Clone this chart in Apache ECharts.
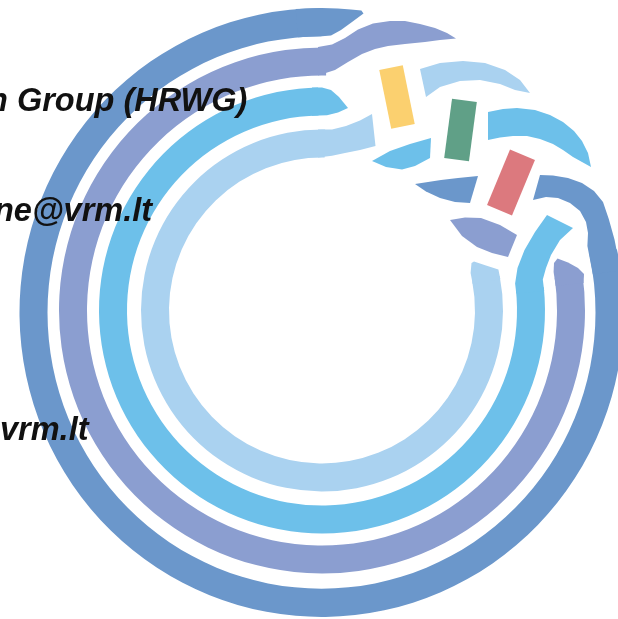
<!DOCTYPE html>
<html><head><meta charset="utf-8">
<script src="https://cdn.jsdelivr.net/npm/echarts@6/dist/echarts.min.js"></script>
<style>html,body{margin:0;padding:0;background:#fff}#c{width:618px;height:619px}</style>
</head><body><div id="c"></div>
<script>
// ---- data ----
const ringColors = ['#6b97cb', '#8b9ed0', '#6dc0ea', '#aad2f0'];
const ringCenters = [[321.5, 312.5], [322, 310.5], [322, 310.5], [322, 310.5]];
const ringStretchY = [1.008, 1, 1, 1];
const ringOuter = [302, 263, 223, 181];
const ringInner = [274, 235, 195, 153];
const ringStart = [-12, -8, -6, -11];
const ringEnd = [270, 271, 269, 271];

const darkTip = [[295.7,9.1],[322,8],[337.8,8.4],[350.9,9.4],[361.4,10.6],[363.5,13.5],[352,22],[341,30],[331,35.5],[322,36.2],[298.1,37.3]];
const purpleWave = [[318,47],[332,44.5],[345,38],[358,29.5],[373,23.5],[390,21],[405,21],[420,24],[435,28],[447,33],[456,38.5],[440,40],[425,42],[405,44],[388,46],[375,49],[362,54],[348,62],[335,70],[318,75.5]];
const lightTip = [[312,87.5],[322,87.5],[331,90],[339,97],[348,108],[338,112.5],[327,115.3],[312,115.7]];
const paleVeer = [[318,129.5],[332,129.5],[346,126],[360,120.5],[372,114],[375.5,146],[360,150],[345,153],[332,155.8],[318,157.5]];
const paleArch = [[420,69],[440,63],[463,61],[485,63],[505,70],[520,80],[530,93],[515,90],[500,84],[480,80],[460,81],[440,87],[426,97]];
const lightWedge = [[372,161],[390,151],[410,144],[431,138],[430,158],[415,166],[402,169.5],[386,167]];
const lightArch = [[488,112],[503,109],[517,108],[535,110],[550,115],[563,122],[574,131],[582,141],[588,153],[591,167],[582,162],[573,157],[563,150],[553,144],[540,139],[527,136],[513,136],[500,137.5],[488,140]];
const darkWedge = [[415,184],[428,182],[441,180],[458,178],[478,176],[470,203],[455,202],[440,198],[426,191.5]];
const darkArch = [[620.6,270.5],[614.5,239.5],[608.7,218.8],[603,202],[594,191],[582,183],[568,178],[553,175.5],[540,175],[533,200],[546,197],[558,198],[570,203],[580,211],[586,222],[588,233],[587.4,246],[592.8,274.3]];
const purpleWedge = [[450,220],[465,217.5],[481,218],[500,225],[517,235],[508,257],[492,253],[477,247],[462,236]];
const lightStrand = [[516.3,293.5],[515.1,283.4],[517.5,268],[524.5,250],[535,232],[547,215],[573,228],[560,240],[551,255],[546,268],[542.8,279.5],[544.2,291.1]];
const purpleTip = [[555.7,285.9],[553.6,272],[554,263],[557.5,258.5],[568,262.5],[578,268],[584,274],[583.6,283]];
const paleTip = [[472.7,283.9],[470.6,273],[471.5,263],[474,261.5],[486,265.5],[498.4,269.5],[500.3,279.1]];

const pieces = [darkTip, purpleWave, lightTip, paleVeer, paleArch, lightWedge, lightArch, darkWedge, darkArch, purpleWedge, lightStrand, purpleTip, paleTip];
const pieceRing = [0, 1, 2, 3, 3, 2, 2, 0, 0, 1, 2, 1, 3];

const barCenters = [[397, 97], [460.5, 130], [511, 182.5]];
const barSizes = [[24, 60], [25, 60], [27, 60]];
const barTilt = [-11.5, 7.5, 22.5];
const barColors = ['#fbd06f', '#60a087', '#dc797e'];

const textLines = ['n Group (HRWG)', 'ne@vrm.lt', 'vrm.lt'];

// ---- chart ----
const chart = echarts.init(document.getElementById('c'));
const ringData = ringOuter.map((r, i) => [ringCenters[i][0], ringCenters[i][1], r, ringInner[i], ringStart[i], ringEnd[i], i]);

chart.setOption({
  animation: false,
  backgroundColor: '#ffffff',
  grid: { left: 0, right: 0, top: 0, bottom: 0 },
  xAxis: { type: 'value', min: 0, max: 618, show: false },
  yAxis: { type: 'value', min: 0, max: 619, inverse: true, show: false },
  series: [
    {
      type: 'custom', coordinateSystem: 'cartesian2d', clip: false,
      data: ringData,
      renderItem: function (params, api) {
        const c = api.coord([api.value(0), api.value(1)]);
        const r = api.size([api.value(2), 0])[0];
        const r0 = api.size([api.value(3), 0])[0];
        const i = api.value(6);
        return {
          type: 'sector',
          x: c[0], y: c[1], scaleY: ringStretchY[i],
          shape: { cx: 0, cy: 0, r: r, r0: r0,
            startAngle: api.value(4) * Math.PI / 180, endAngle: api.value(5) * Math.PI / 180, clockwise: true },
          style: { fill: ringColors[i] }
        };
      }
    },
    {
      type: 'custom', coordinateSystem: 'cartesian2d', clip: false,
      data: pieces.map((p, i) => [i, 0]),
      renderItem: function (params, api) {
        const i = api.value(0);
        return {
          type: 'polygon',
          shape: { points: pieces[i].map(pt => api.coord(pt)) },
          style: { fill: ringColors[pieceRing[i]] }
        };
      }
    },
    {
      type: 'custom', coordinateSystem: 'cartesian2d', clip: false,
      data: barCenters.map((c, i) => [c[0], c[1], barSizes[i][0], barSizes[i][1], barTilt[i], i]),
      renderItem: function (params, api) {
        const cx = api.value(0), cy = api.value(1), w = api.value(2), h = api.value(3);
        const t = api.value(4) * Math.PI / 180;
        const u = [Math.sin(t), -Math.cos(t)], v = [Math.cos(t), Math.sin(t)];
        const corner = (a, b) => api.coord([cx + u[0] * a * h / 2 + v[0] * b * w / 2, cy + u[1] * a * h / 2 + v[1] * b * w / 2]);
        return {
          type: 'polygon',
          shape: { points: [corner(1, -1), corner(1, 1), corner(-1, 1), corner(-1, -1)] },
          style: { fill: barColors[api.value(5)] }
        };
      }
    }
  ],
  graphic: [
    { type: 'text', x: -12, y: 102, z: 100, style: { text: textLines[0], fill: '#111', fontFamily: 'Liberation Sans', fontStyle: 'italic', fontWeight: 'bold', fontSize: 32.5, verticalAlign: 'middle' } },
    { type: 'text', x: -6, y: 212, z: 100, style: { text: textLines[1], fill: '#111', fontFamily: 'Liberation Sans', fontStyle: 'italic', fontWeight: 'bold', fontSize: 32.5, verticalAlign: 'middle' } },
    { type: 'text', x: 0, y: 431, z: 100, style: { text: textLines[2], fill: '#111', fontFamily: 'Liberation Sans', fontStyle: 'italic', fontWeight: 'bold', fontSize: 32.5, verticalAlign: 'middle' } }
  ]
});
</script>
</body></html>
